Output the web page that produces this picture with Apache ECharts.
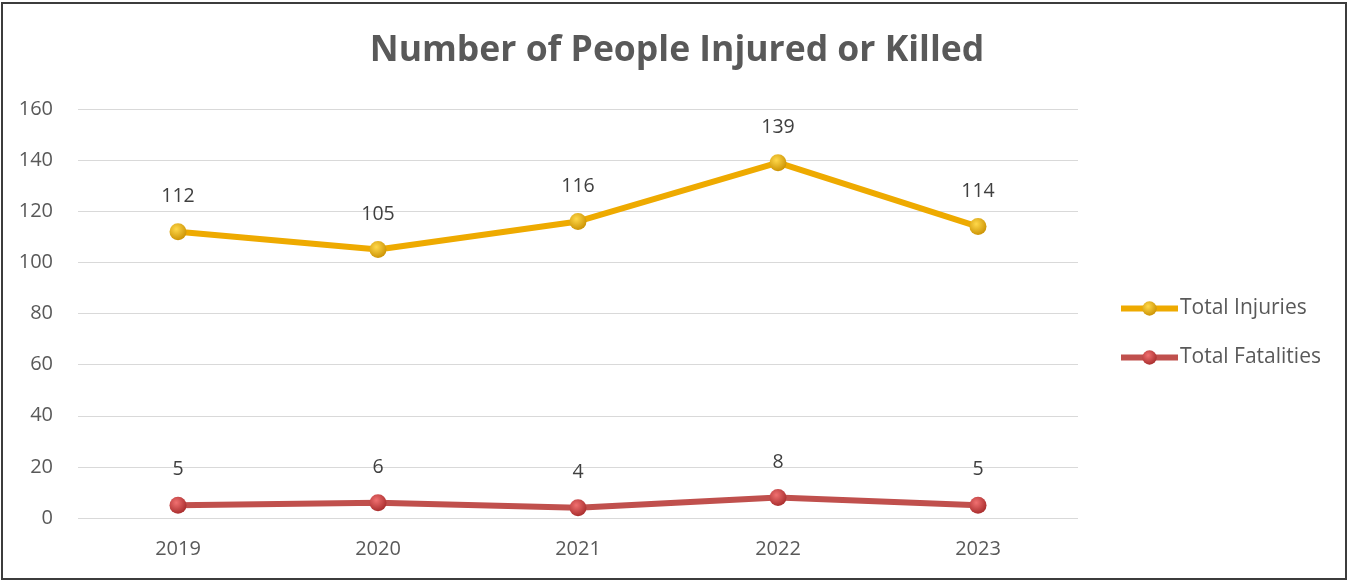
<!DOCTYPE html>
<html>
<head>
<meta charset="utf-8">
<script src="https://cdn.jsdelivr.net/npm/echarts@6/dist/echarts.min.js"></script>
<style>
html,body{margin:0;padding:0;background:#fff;}
#c{width:1349px;height:581px;}
</style>
</head>
<body>
<div id="c"></div>
<script>
const titleText = 'Number of People Injured or Killed';
const categories = ['2019', '2020', '2021', '2022', '2023'];
const injuries = [112, 105, 116, 139, 114];
const fatalities = [5, 6, 4, 8, 5];
const seriesNames = ['Total Injuries', 'Total Fatalities'];

const font = '"Open Sans", Lato, "Liberation Sans", sans-serif';
function ball(c1, c2) {
  return new echarts.graphic.RadialGradient(0.4, 0.35, 0.7, [
    {offset: 0, color: c1}, {offset: 1, color: c2}
  ]);
}
const chart = echarts.init(document.getElementById('c'));
chart.setOption({
  animation: false,
  backgroundColor: '#fff',
  title: {
    text: titleText, top: 28, left: 672, textAlign: 'center',
    textStyle: {fontFamily: font, fontSize: 35.5, fontWeight: 'bold', color: '#595959'}
  },
  graphic: [{
    type: 'rect', shape: {x: 2, y: 3, width: 1344, height: 576},
    style: {fill: 'none', stroke: '#3c3c3c', lineWidth: 2}, silent: true
  }],
  legend: {
    orient: 'vertical', left: 1113, top: 293, itemWidth: 57, itemHeight: 18, itemGap: 28,
    lineStyle: {width: 6},
    textStyle: {fontFamily: font, fontSize: 21, color: '#595959', padding: [0, 0, 0, -3]},
    data: seriesNames
  },
  grid: {left: 78, right: 271, top: 109, bottom: 63},
  xAxis: {
    type: 'category', data: categories, boundaryGap: true,
    axisLine: {show: false}, axisTick: {show: false},
    axisLabel: {fontFamily: font, fontSize: 20, color: '#595959', margin: 21}
  },
  yAxis: {
    type: 'value', min: 0, max: 160, interval: 20,
    axisLine: {show: false}, axisTick: {show: false},
    splitLine: {lineStyle: {color: '#d9d9d9', width: 1}},
    axisLabel: {fontFamily: font, fontSize: 20, color: '#595959', margin: 25}
  },
  series: [{
    name: seriesNames[0], type: 'line', data: injuries,
    symbol: 'circle', symbolSize: 17,
    lineStyle: {color: '#EEAA00', width: 6},
    itemStyle: {color: ball('#FFD84A', '#C98F00'), borderWidth: 0},
    label: {show: true, position: 'top', distance: 17, fontFamily: font, fontSize: 19.5, color: '#404040'}
  }, {
    name: seriesNames[1], type: 'line', data: fatalities,
    symbol: 'circle', symbolSize: 17,
    lineStyle: {color: '#C0504D', width: 6},
    itemStyle: {color: ball('#F07070', '#A52A2A'), borderWidth: 0},
    label: {show: true, position: 'top', distance: 17, fontFamily: font, fontSize: 19.5, color: '#404040'}
  }]
});
</script>
</body>
</html>
